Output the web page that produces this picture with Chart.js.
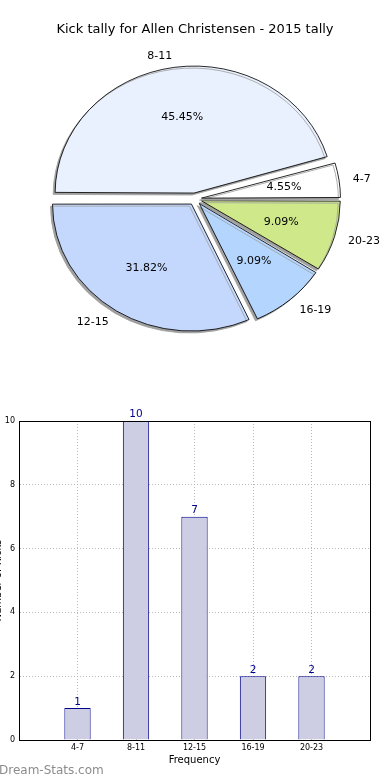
<!DOCTYPE html>
<html>
<head>
<meta charset="utf-8">
<script src="https://cdn.jsdelivr.net/npm/chart.js@4/dist/chart.umd.min.js"></script>
<style>
  body { margin: 0; background: #fff; width: 390px; height: 780px; overflow: hidden; position: relative; }
  #pieWrap { position: absolute; left: 0; top: 0; width: 390px; height: 396px; }
  #barWrap { position: absolute; left: 0; top: 400px; width: 390px; height: 380px; }
  .watermark { position: absolute; left: -1px; top: 763px; font: 12px 'DejaVu Sans', sans-serif; color: #8c8c8c; }
</style>
</head>
<body>
<div id="pieWrap"><canvas id="chartPie" width="390" height="396"></canvas></div>
<div id="barWrap"><canvas id="chartBar" width="390" height="380"></canvas></div>
<div class="watermark">Dream-Stats.com</div>
<script>
// datos
const categories = ['4-7', '8-11', '12-15', '16-19', '20-23'];
const kicks = [1, 10, 7, 2, 2];
const pieColors = ['#ffffff', '#eaf1fe', '#c4d8fe', '#b3d5fe', '#cfe98a'];
const yTicks = [0, 2, 4, 6, 8, 10];
const chartTitle = 'Kick tally for Allen Christensen - 2015 tally';
const xTitle = 'Frequency';
const yTitle = 'Number of Kicks';

Chart.defaults.font.family = "'DejaVu Sans', sans-serif";
Chart.defaults.color = '#000';

// ===== PIE =====
// matplotlib va antihorario desde el este; Chart.js va horario -> invertir
const pieLabels = categories.slice().reverse();
const pieValues = kicks.slice().reverse();
const pieFill = pieColors.slice().reverse();
const total = kicks.reduce((a, b) => a + b, 0);
const SX = 1.094;      // pie ovalado
const EXPLODE = 24;    // Chart.js desplaza offset/4

const piePlugin = {
    id: 'pieStuff',
    beforeDatasetsDraw(chart) {
        const ctx = chart.ctx;
        const a = chart.chartArea;
        const cx = (a.left + a.right) / 2;
        const cy = (a.top + a.bottom) / 2;
        const meta = chart.getDatasetMeta(0);
        const R = meta.controller.outerRadius;
        // Chart.js agranda las porciones con offset; compensar para que todas tengan el mismo radio
        meta.data.forEach(arc => {
            const circ = arc.endAngle - arc.startAngle;
            const fix = 1 - Math.sin(Math.min(Math.PI, circ));
            arc.outerRadius = R - (EXPLODE / 4) * fix;
        });
        ctx.save();
        ctx.translate(cx, cy);
        ctx.scale(SX, 1);
        ctx.translate(-cx, -cy);
        ctx.shadowColor = '#a0a0a0';
        ctx.shadowOffsetX = -2;
        ctx.shadowOffsetY = 2;
    },
    afterDatasetsDraw(chart) {
        const ctx = chart.ctx;
        ctx.restore();
        const meta = chart.getDatasetMeta(0);
        const r = meta.controller.outerRadius;
        ctx.save();
        ctx.fillStyle = '#000';
        ctx.font = "11px 'DejaVu Sans', sans-serif";
        ctx.textBaseline = 'middle';
        meta.data.forEach((arc, i) => {
            const mid = (arc.startAngle + arc.endAngle) / 2;
            const c = Math.cos(mid), s = Math.sin(mid);
            const shift = EXPLODE / 4;
            const lx = arc.x + SX * c * (r * 1.1 + shift);
            const ly = arc.y + s * (r * 1.1 + shift) + 1;
            ctx.textAlign = c > 0 ? 'left' : 'right';
            ctx.fillText(pieLabels[i], lx, ly);
            const px = arc.x + SX * c * (r * 0.6 + shift);
            const py = arc.y + s * (r * 0.6 + shift);
            ctx.textAlign = 'center';
            ctx.fillText((pieValues[i] / total * 100).toFixed(2) + '%', px, py);
        });
        ctx.restore();
    }
};

new Chart(document.getElementById('chartPie'), {
    type: 'pie',
    data: {
        labels: pieLabels,
        datasets: [{
            data: pieValues,
            backgroundColor: pieFill,
            borderColor: '#000',
            borderWidth: 0.8,
            offset: EXPLODE,
            clip: false
        }]
    },
    options: {
        responsive: false,
        animation: false,
        events: [],
        rotation: 90,
        radius: 127,
        layout: { padding: { bottom: 35.6 } },
        plugins: {
            legend: { display: false },
            tooltip: { enabled: false },
            title: {
                display: true,
                text: chartTitle,
                color: '#000',
                font: { size: 13, weight: 'normal' },
                padding: { top: 22, bottom: 0 }
            }
        }
    },
    plugins: [piePlugin]
});

// ===== BARRAS =====
// eje x de 0 a 6 como matplotlib: huecos vacios en los extremos
const barLabels = [''].concat(categories, ['']);
const barValues = [null].concat(kicks, [null]);

const barPlugin = {
    id: 'barStuff',
    afterDatasetsDraw(chart) {
        const ctx = chart.ctx;
        const meta = chart.getDatasetMeta(0);
        ctx.save();
        ctx.fillStyle = '#00008b';
        ctx.font = "10.5px 'DejaVu Sans', sans-serif";
        ctx.textAlign = 'center';
        ctx.textBaseline = 'bottom';
        meta.data.forEach((bar, i) => {
            if (barValues[i] == null) return;
            ctx.fillText(String(barValues[i]), bar.x, bar.y - 1);
        });
        ctx.restore();
    },
    afterDraw(chart) {
        const ctx = chart.ctx;
        const a = chart.chartArea;
        ctx.save();
        ctx.strokeStyle = '#000';
        ctx.lineWidth = 1;
        ctx.strokeRect(Math.round(a.left) + 0.5, Math.round(a.top) + 0.5,
            Math.round(a.right - a.left), Math.round(a.bottom - a.top));
        // etiqueta del eje y (cortada en el original)
        ctx.translate(-2, (a.top + a.bottom) / 2);
        ctx.rotate(-Math.PI / 2);
        ctx.fillStyle = '#000';
        ctx.font = "10px 'DejaVu Sans', sans-serif";
        ctx.textAlign = 'center';
        ctx.textBaseline = 'middle';
        ctx.fillText(yTitle, 0, 0);
        ctx.restore();
    }
};

const gridColor = (c) => (c.index === 0 || c.index === barLabels.length - 1) ? 'rgba(0,0,0,0)' : '#b8b8b8';

new Chart(document.getElementById('chartBar'), {
    type: 'bar',
    data: {
        labels: barLabels,
        datasets: [{
            data: barValues,
            backgroundColor: '#cdcde4',
            borderColor: '#00008b',
            borderWidth: 1,
            barPercentage: 0.45,
            categoryPercentage: 1
        }]
    },
    options: {
        responsive: false,
        animation: false,
        events: [],
        layout: { padding: { top: 21, right: 20, left: 0, bottom: 0 } },
        plugins: { legend: { display: false }, tooltip: { enabled: false } },
        scales: {
            x: {
                offset: false,
                afterFit: (scale) => { scale.height = 40; },
                grid: { offset: false, drawTicks: false, color: gridColor },
                border: { color: '#000', dash: [1, 2], display: true },
                ticks: { padding: 3, font: { size: 8 }, color: '#000', autoSkip: false, maxRotation: 0 },
                title: { display: true, text: xTitle, font: { size: 10 }, color: '#000', padding: { top: 0, bottom: 14 } }
            },
            y: {
                min: 0,
                max: 10,
                afterFit: (scale) => { scale.width = 19; },
                afterBuildTicks: (scale) => { scale.ticks = yTicks.map(v => ({ value: v })); },
                grid: { drawTicks: false, color: '#b8b8b8' },
                border: { color: '#000', dash: [1, 2] },
                ticks: { padding: 4, font: { size: 8 }, color: '#000' }
            }
        }
    },
    plugins: [barPlugin]
});
</script>
</body>
</html>
